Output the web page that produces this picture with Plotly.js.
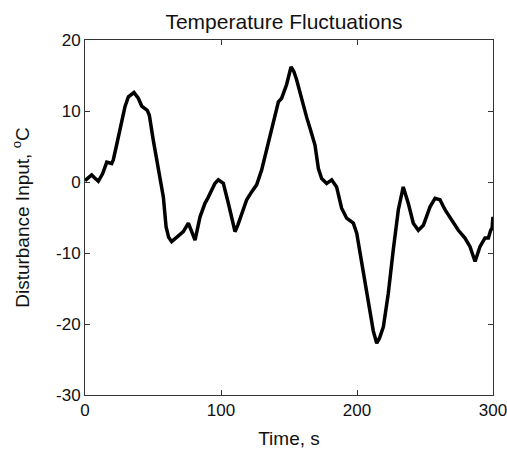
<!DOCTYPE html>
<html><head><meta charset="utf-8">
<script src="https://cdn.plot.ly/plotly-3.0.1.min.js"></script>
<style>html,body{margin:0;padding:0;background:#fff;}#chart{width:507px;height:451px;}</style>
</head><body><div id="chart"></div>
<script>
const timeS = [0,2.5,4.9,7,9.8,13,16,19.6,20.8,23,25.7,27.5,29.4,31.9,34,36,39.2,41.7,45.8,47.3,50.2,53.9,57.6,59.6,61.5,63.7,66,68.6,72.3,76,78.4,80.9,84.6,88.2,90.5,93.1,95.5,98,101.7,105.4,109,110.3,112.5,115.2,118.9,122.5,126.2,129.9,133.6,136,138.5,142.2,144.6,148.2,151.5,153.5,155.6,158,160.5,163,165.4,169.1,171.6,174,177.7,181.4,185,188.7,192.4,194.9,197.3,199.8,202.2,205.9,209.6,212,214.5,216.5,219.4,223,226.7,230.4,234,237.7,241.4,245.1,248.8,251,253.7,257.4,261,264.7,269.6,274.5,279.4,283.1,286.8,288.5,290.4,294.1,296.6,298.3,299.3,300];
const disturbance = [0.2,0.6,1.0,0.6,0.1,1.2,2.8,2.6,3.1,5.0,7.3,9.0,10.6,12.0,12.3,12.6,11.8,10.7,10.1,9.4,5.9,1.7,-2.1,-6.3,-7.8,-8.4,-8.0,-7.7,-7.0,-5.8,-7.0,-8.2,-4.9,-3.0,-2.2,-1.1,-0.2,0.3,-0.2,-3.0,-5.8,-7.0,-6.0,-4.6,-2.5,-1.4,-0.4,1.7,4.5,6.4,8.3,11.3,11.8,13.7,16.2,15.6,14.4,12.6,10.8,9.1,7.6,5.2,1.9,0.5,-0.2,0.3,-0.7,-3.7,-5.1,-5.4,-5.8,-7.2,-10.0,-14.3,-18.5,-21.0,-22.7,-22.0,-20.4,-15.7,-9.5,-3.9,-0.7,-3.0,-5.8,-6.8,-6.1,-4.8,-3.5,-2.3,-2.5,-3.9,-5.4,-6.8,-7.9,-9.1,-11.2,-10.2,-9.1,-7.9,-7.9,-6.8,-6.5,-4.9];
const xTicks = [0,100,200,300];
const yTicks = [-30,-20,-10,0,10,20];

const trace = {x: timeS, y: disturbance, mode: 'lines', type: 'scatter',
  line: {color: '#000', width: 3.5}, hoverinfo: 'skip'};
const axisCommon = {showgrid: false, zeroline: false, showline: true, mirror: 'ticks',
  linecolor: '#333', linewidth: 1, ticks: 'inside', ticklen: 5, tickcolor: '#333',
  ticklabeloverflow: 'allow',
  tickfont: {family: 'Liberation Sans, Arial, sans-serif', size: 17, color: '#111'}};
const layout = {
  width: 507, height: 451,
  margin: {l: 85, r: 14, t: 40, b: 56},
  paper_bgcolor: '#fff', plot_bgcolor: '#fff', showlegend: false,
  font: {family: 'Liberation Sans, Arial, sans-serif', color: '#111'},
  title: {text: 'Temperature Fluctuations', font: {size: 21, color: '#111'}, xref: 'container', x: 0.56, xanchor: 'center', y: 0.953, yanchor: 'middle'},
  xaxis: Object.assign({}, axisCommon, {range: [0, 300], tickvals: xTicks, ticktext: xTicks.map(String),
    title: {text: 'Time, s', font: {size: 19, color: '#111'}, standoff: 12}}),
  yaxis: Object.assign({}, axisCommon, {range: [-30, 20], tickvals: yTicks, ticktext: yTicks.map(String),
    title: {text: 'Disturbance Input, <sup>o</sup>C', font: {size: 19, color: '#111'}, standoff: 21}})
};
Plotly.newPlot('chart', [trace], layout, {displayModeBar: false, staticPlot: true});
</script></body></html>
